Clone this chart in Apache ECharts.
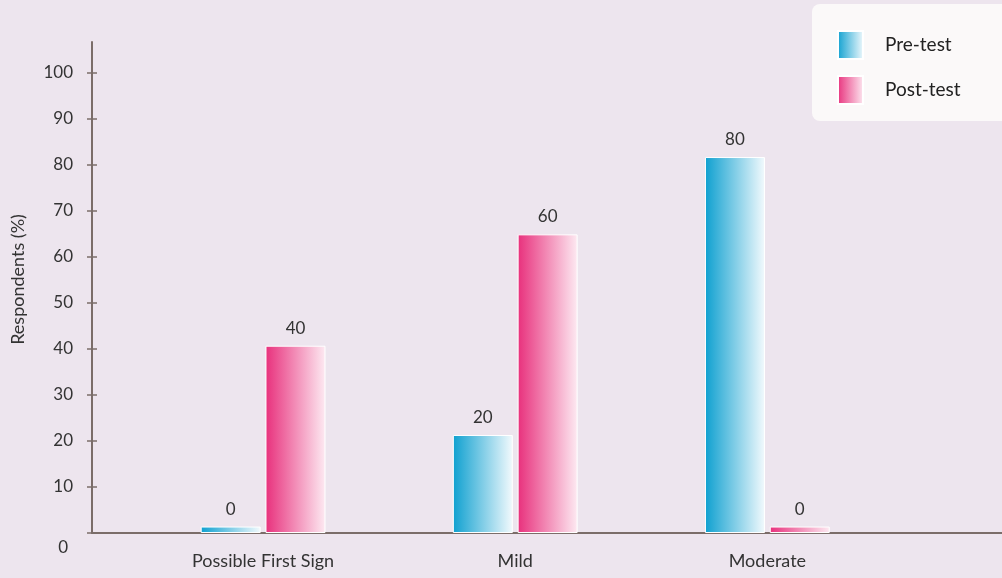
<!DOCTYPE html>
<html>
<head>
<meta charset="utf-8">
<style>
  html, body { margin: 0; padding: 0; background: #ede5ee; }
  #chart { width: 1002px; height: 578px; }
</style>
<script src="https://cdn.jsdelivr.net/npm/echarts@6/dist/echarts.min.js"></script>
</head>
<body>
<div id="chart"></div>
<script>
// categories and values
const categories = ['Possible First Sign', 'Mild', 'Moderate']
const seriesNames = ['Pre-test', 'Post-test']
// bar heights as drawn (the printed labels are rounded)
const preValues = [1.4, 21.3, 81.7]
const postValues = [40.7, 64.9, 1.4]
// printed labels above the bars
const preLabels = ['0', '20', '80']
const postLabels = ['40', '60', '0']
const yTicks = [0, 10, 20, 30, 40, 50, 60, 70, 80, 90, 100]

const chart = echarts.init(document.getElementById('chart'))

function grad (from, to) {
  return new echarts.graphic.LinearGradient(0, 0, 1, 0, [
    { offset: 0, color: from },
    { offset: 1, color: to }
  ])
}

function toPoints (vals) {
  return vals.map((v, i) => [i + 1, v])
}

const textColor = '#333'
const axisColor = '#7b6d69'
const font = 'Lato, "Open Sans", sans-serif'

function barSeries (name, vals, labels, from, to) {
  return {
    name: name,
    type: 'bar',
    barWidth: 60,
    barGap: '8%',
    data: toPoints(vals),
    itemStyle: {
      color: grad(from, to),
      borderColor: '#fff',
      borderWidth: 1
    },
    label: {
      show: true,
      position: 'top',
      distance: 9,
      color: textColor,
      fontFamily: font,
      fontSize: 17,
      formatter: p => labels[p.dataIndex]
    }
  }
}

const option = {
  backgroundColor: '#ede5ee',
  animation: false,
  grid: { left: 92, right: 0, top: 42, bottom: 45, outerBoundsMode: 'none', containLabel: false },
  legend: {
    orient: 'vertical',
    left: 812,
    top: 4,
    padding: [26, 50, 16, 25],
    backgroundColor: '#fbf9f9',
    borderRadius: 8,
    icon: 'rect',
    itemWidth: 25,
    itemHeight: 28,
    itemGap: 15,
    data: seriesNames,
    textStyle: {
      color: '#222',
      fontFamily: font,
      fontSize: 19,
      padding: [0, 0, 0, 17]
    }
  },
  xAxis: {
    type: 'value',
    min: 0.3214,
    max: 3.9306,
    splitLine: { show: false },
    axisLine: { show: true, onZero: false, lineStyle: { color: axisColor, width: 2 } },
    axisTick: { show: false },
    axisLabel: {
      customValues: [1, 2, 3],
      formatter: v => categories[Math.round(v) - 1] || '',
      color: textColor,
      fontFamily: font,
      fontSize: 18,
      margin: 19
    }
  },
  yAxis: [
    {
      type: 'value',
      min: 0,
      max: 106.7,
      name: 'Respondents (%)',
      nameLocation: 'middle',
      nameGap: 65,
      nameRotate: 90,
      nameTextStyle: { color: textColor, fontFamily: font, fontSize: 18, padding: [0, 0, 0, 16] },
      splitLine: { show: false },
      axisLine: { show: true, onZero: false, lineStyle: { color: axisColor, width: 2 } },
      axisTick: {
        show: true,
        length: 5,
        customValues: yTicks,
        lineStyle: { color: axisColor, width: 1.5 }
      },
      axisLabel: {
        customValues: yTicks,
        color: textColor,
        fontFamily: font,
        fontSize: 17,
        margin: 19,
        formatter: v => v === 0 ? '{z|0}' : String(v),
        rich: { z: { padding: [30, 5, 0, 0], fontSize: 17, color: textColor, fontFamily: font } }
      }
    },
    {
      // second copy only to draw the inner half of the crossing ticks
      type: 'value',
      min: 0,
      max: 106.7,
      position: 'left',
      splitLine: { show: false },
      axisLine: { show: false, onZero: false },
      axisLabel: { show: false },
      axisTick: {
        show: true,
        inside: true,
        length: 5,
        customValues: yTicks,
        lineStyle: { color: axisColor, width: 1.5 }
      }
    }
  ],
  series: [
    barSeries(seriesNames[0], preValues, preLabels, '#0ea0d0', '#f3fafd'),
    barSeries(seriesNames[1], postValues, postLabels, '#e8307c', '#fdeaf2')
  ]
}

chart.setOption(option)
</script>
</body>
</html>
